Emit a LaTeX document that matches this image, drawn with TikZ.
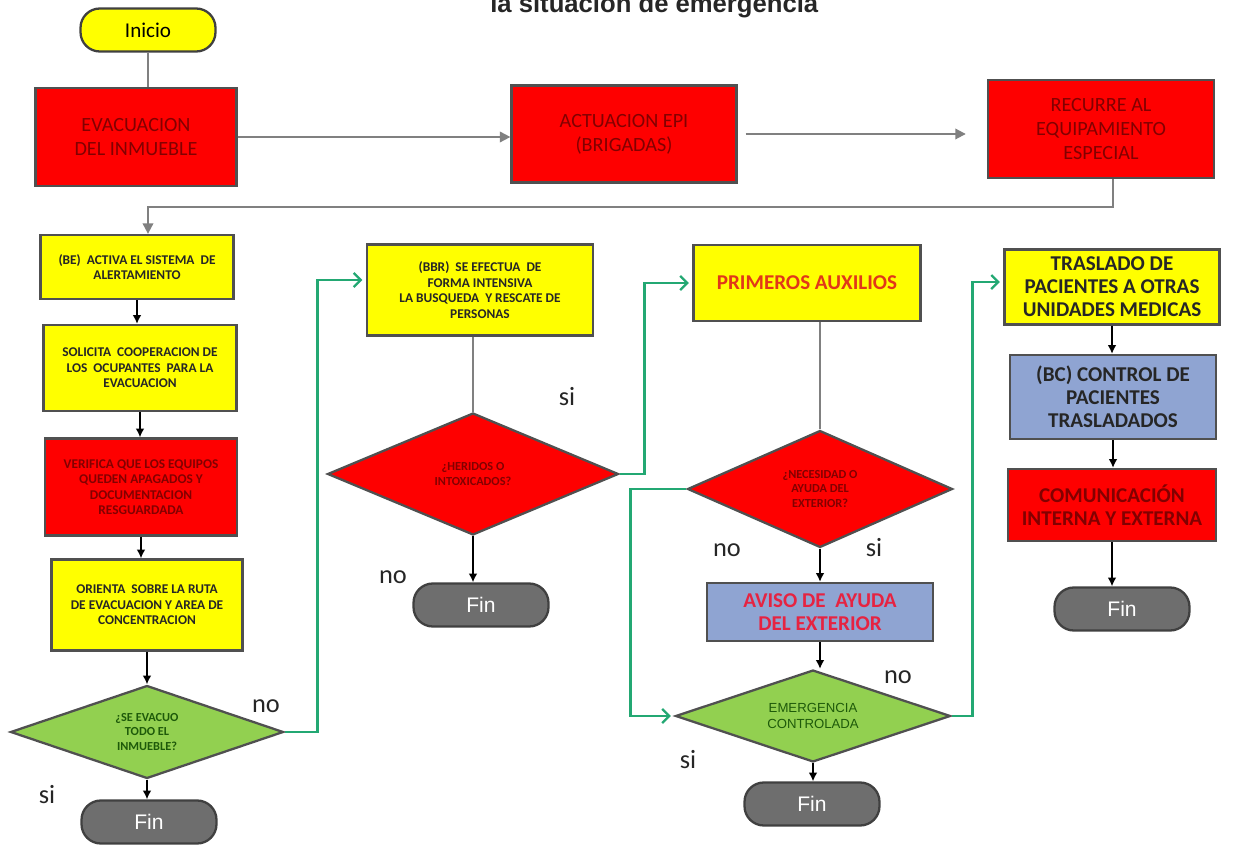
\documentclass[tikz,border=0pt]{standalone}
\usepackage{fontspec}
\setmainfont{Carlito}
\newfontfamily\arialfont{Liberation Sans}
\usetikzlibrary{shapes.geometric,arrows.meta}
\definecolor{boxred}{RGB}{254,0,0}
\definecolor{boxyellow}{RGB}{255,255,0}
\definecolor{boxgreen}{RGB}{146,208,80}
\definecolor{boxblue}{RGB}{143,164,210}
\definecolor{fingray}{RGB}{110,110,110}
\definecolor{edgegray}{RGB}{80,80,80}
\definecolor{linkgreen}{RGB}{35,168,115}
\definecolor{txtred}{RGB}{130,0,0}
\definecolor{txtgreen}{RGB}{30,90,10}
\definecolor{auxred}{RGB}{225,55,25}
\definecolor{avisored}{RGB}{230,35,65}
\begin{document}
\begin{tikzpicture}[x=0.02cm,y=-0.02cm,
  box/.style={rectangle, draw=edgegray, line width=1.3pt, align=center, inner sep=1pt},
  redbox/.style={box, fill=boxred, text=txtred},
  yelbox/.style={box, fill=boxyellow, text=black!85},
  bluebox/.style={box, fill=boxblue},
  decision/.style={diamond, aspect=2.5, draw=edgegray, line width=1.3pt, align=center, inner sep=0pt},
  pill/.style={rectangle, rounded corners=11pt, draw=black!75, line width=1.3pt, minimum width=2.7cm, minimum height=0.86cm},
  fin/.style={pill, fill=fingray, text=white, font=\arialfont\fontsize{12}{14}\selectfont},
  topfont/.style={font=\fontsize{11.5}{13.5}\selectfont},
  small/.style={font=\bfseries\fontsize{7.6}{8.8}\selectfont},
  smaller/.style={font=\bfseries\fontsize{7}{8.2}\selectfont},
  big/.style={font=\bfseries\fontsize{12}{13}\selectfont},
  tag/.style={font=\fontsize{15}{18}\selectfont, text=black!85},
  grayline/.style={draw=gray, line width=1.1pt},
  grayarrow/.style={grayline, -{Triangle[length=6pt,width=6pt]}},
  blackarrow/.style={-{Latex[length=5pt,width=5pt]}, line width=1.3pt},
  greenarrow/.style={draw=linkgreen, line width=1.3pt, shorten >=2pt, -{Straight Barb[length=4pt,width=8pt]}}]
\useasboundingbox (0,0) rectangle (1237,847);
\node[anchor=base west, inner sep=0pt, font=\arialfont\bfseries\fontsize{14.6}{16}\selectfont, text=black!85] (title) at (490,13) {la situación de emergencia};

\node[pill, fill=boxyellow, font=\fontsize{12}{14}\selectfont] (inicio) at (148,30) {Inicio};
\node[redbox, topfont, minimum width=4.02cm, minimum height=1.96cm] (evac) at (136,137) {EVACUACION\\DEL INMUEBLE};
\node[redbox, topfont, minimum width=4.5cm, minimum height=1.94cm] (epi) at (624,134) {ACTUACION EPI\\(BRIGADAS)};
\node[redbox, topfont, minimum width=4.52cm, minimum height=1.96cm] (equip) at (1101,129) {RECURRE AL\\EQUIPAMIENTO\\ESPECIAL};

\node[yelbox, small, minimum width=3.86cm, minimum height=1.28cm] (be) at (137,267) {(BE)~~ACTIVA EL SISTEMA~~DE\\ALERTAMIENTO};
\node[yelbox, small, minimum width=3.86cm, minimum height=1.72cm] (coop) at (140,368) {SOLICITA~~COOPERACION DE\\LOS~~OCUPANTES~~PARA LA\\EVACUACION};
\node[redbox, small, minimum width=3.84cm, minimum height=1.94cm] (verif) at (141,487) {VERIFICA QUE LOS EQUIPOS\\QUEDEN APAGADOS Y\\DOCUMENTACION\\RESGUARDADA};
\node[yelbox, small, minimum width=3.82cm, minimum height=1.82cm] (ruta) at (147,605) {ORIENTA~~SOBRE LA RUTA\\DE EVACUACION Y AREA DE\\CONCENTRACION};
\node[decision, fill=boxgreen, text=txtgreen, smaller, minimum width=5.46cm, minimum height=1.86cm] (dec1) at (147,732) {¿SE EVACUO\\TODO EL\\INMUEBLE?};
\node[fin] (fin1) at (149,822) {Fin};
\node[tag] (si1) at (47,795) {si};
\node[tag] (no1) at (266,706) {no};

\node[yelbox, small, minimum width=4.52cm, minimum height=1.82cm] (bbr) at (480,290) {(BBR)~~SE EFECTUA~~DE\\FORMA INTENSIVA\\LA BUSQUEDA~~Y RESCATE DE\\PERSONAS};
\node[decision, fill=boxred, text=txtred, smaller, minimum width=5.82cm, minimum height=2.44cm] (dec2) at (473,474) {¿HERIDOS O\\INTOXICADOS?};
\node[fin] (fin2) at (481,605) {Fin};
\node[tag] (si2) at (567,397) {si};
\node[tag] (no2) at (393,577) {no};

\node[yelbox, big, text=auxred, minimum width=4.54cm, minimum height=1.52cm] (aux) at (807,283) {PRIMEROS AUXILIOS};
\node[decision, fill=boxred, text=txtred, smaller, minimum width=5.3cm, minimum height=2.34cm] (dec3) at (820,489) {¿NECESIDAD O\\AYUDA DEL\\EXTERIOR?};
\node[bluebox, big, text=avisored, minimum width=4.52cm, minimum height=1.16cm] (aviso) at (820,612) {AVISO DE~~AYUDA\\DEL EXTERIOR};
\node[decision, fill=boxgreen, text=txtgreen, font=\arialfont\fontsize{7.5}{9}\selectfont, minimum width=5.5cm, minimum height=1.84cm] (dec4) at (813,716) {EMERGENCIA\\CONTROLADA};
\node[fin] (fin3) at (812,804) {Fin};
\node[tag] (no3) at (727,550) {no};
\node[tag] (si3) at (874,548) {si};
\node[tag] (no4) at (898,677) {no};
\node[tag] (si4) at (688,760) {si};

\node[yelbox, big, minimum width=4.3cm, minimum height=1.5cm] (tras) at (1112,287) {TRASLADO DE\\PACIENTES A OTRAS\\UNIDADES MEDICAS};
\node[bluebox, big, text=black!85, minimum width=4.12cm, minimum height=1.68cm] (bc) at (1113,397) {(BC) CONTROL DE\\PACIENTES\\TRASLADADOS};
\node[redbox, big, minimum width=4.16cm, minimum height=1.44cm] (com) at (1112,505) {COMUNICACIÓN\\INTERNA Y EXTERNA};
\node[fin] (fin4) at (1122,609) {Fin};

\coordinate (turn) at (148,207);
\draw[grayline] (inicio.south) -- (inicio.south |- evac.north);
\draw[grayarrow] (evac.east) -- (evac.east -| epi.west);
\draw[grayarrow, shorten <=4.5pt, shorten >=12pt] (epi.east) -- (epi.east -| equip.west);
\draw[grayarrow] ([xshift=6.8pt]equip.south) |- (turn) -- (turn |- be.north);
\draw[blackarrow] (be.south) -- (be.south |- coop.north);
\draw[blackarrow] (coop.south) -- (coop.south |- verif.north);
\draw[blackarrow] (verif.south) -- (verif.south |- ruta.north);
\draw[blackarrow] (ruta.south) -- (ruta.south |- dec1.north);
\draw[blackarrow] (dec1.south) -- (dec1.south |- fin1.north);
\draw[greenarrow] (dec1.east) -- ++(33,0) |- ([yshift=5.7pt]bbr.west);
\draw[grayline] (dec2.north) -- (dec2.north |- bbr.south);
\draw[blackarrow] (dec2.south) -- (dec2.south |- fin2.north);
\draw[greenarrow] (dec2.east) -- ++(25,0) |- (aux.west);
\draw[grayline] (dec3.north) -- (dec3.north |- aux.south);
\draw[blackarrow] (dec3.south) -- (aviso.north);
\draw[blackarrow] (aviso.south) -- (aviso.south |- dec4.north);
\draw[greenarrow] (dec3.west) -- ++(-56,0) |- (dec4.west);
\draw[blackarrow] (dec4.south) -- (dec4.south |- fin3.north);
\draw[greenarrow] (dec4.east) -- ++(21,0) |- ([yshift=2.8pt]tras.west);
\draw[blackarrow] (tras.south) -- (tras.south |- bc.north);
\draw[blackarrow] (bc.south) -- (bc.south |- com.north);
\draw[blackarrow] (com.south) -- (com.south |- fin4.north);
\end{tikzpicture}
\end{document}
